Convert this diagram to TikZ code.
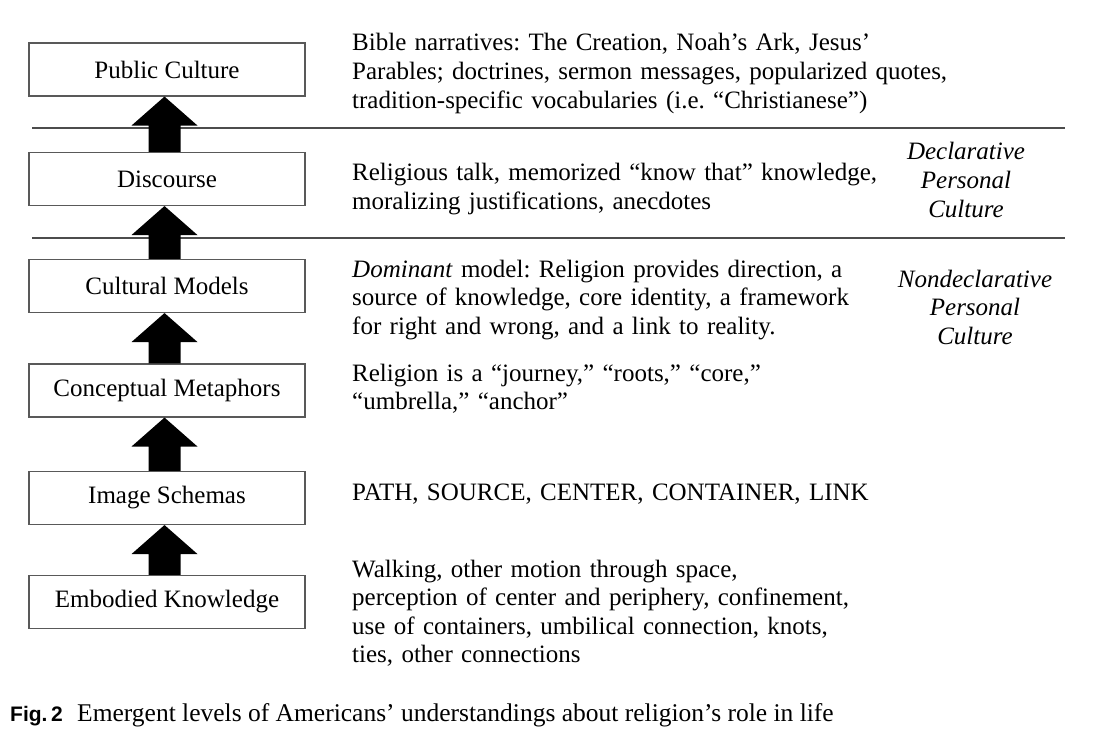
\documentclass[tikz,border=0pt]{standalone}
\usepackage{fontspec}
\setmainfont{Liberation Serif}
\setsansfont{Liberation Sans}
\usetikzlibrary{calc}
\frenchspacing
\newcommand\uparr[2]{%
  \fill[uparrowfill] let \p1=($(#1.north)+(-2.5pt,0)$), \p2=($(#2.south)+(-2.5pt,0)$) in
    (\x1-16pt,\y1) -- (\x1-16pt,\y2-29pt) -- (\x1-33pt,\y2-29pt) -- (\x2,\y2)
    -- (\x1+33pt,\y2-29pt) -- (\x1+16pt,\y2-29pt) -- (\x1+16pt,\y1) -- cycle;}
\tikzset{
  lvl/.style={draw=black!65, line width=1.1pt, minimum width=276pt, minimum height=53pt,
    inner sep=0pt, font=\fontsize{25}{28.5}\selectfont},
  desc/.style={anchor=base west, inner sep=0pt, text width=720pt, align=left,
    font=\fontsize{25}{28.6}\selectfont\frenchspacing},
  side/.style={anchor=base, inner sep=0pt, text width=220pt, align=center,
    font=\fontsize{25}{28.8}\selectfont\itshape},
  rulel/.style={draw=black!70, line width=1.3pt},
  uparrowfill/.style={fill=black},
  capt/.style={anchor=base west, inner sep=0pt, font=\fontsize{25.5}{28}\selectfont}
}
\begin{document}
\begin{tikzpicture}[x=1pt,y=-1pt]
\useasboundingbox (0,0) rectangle (1094,754);
\fill[white] (0,0) rectangle (1094,754);

% level boxes
\node[lvl] (pc) at (167,69.5) {Public Culture};
\node[lvl] (dc) at (167,179) {Discourse};
\node[lvl] (cm) at (167,286) {Cultural Models};
\node[lvl] (cp) at (167,390.5) {Conceptual Metaphors};
\node[lvl] (is) at (167,498) {Image Schemas};
\node[lvl] (ek) at (167,602) {Embodied Knowledge};

% horizontal rules
\coordinate (r1a) at (32,128); \coordinate (r1b) at (1065,128);
\coordinate (r2a) at (32,238); \coordinate (r2b) at (1065,238);
\draw[rulel] (r1a) -- (r1b);
\draw[rulel] (r2a) -- (r2b);

% arrows
\uparr{dc}{pc}
\uparr{cm}{dc}
\uparr{cp}{cm}
\uparr{is}{cp}
\uparr{ek}{is}

% descriptions
\node[desc] (tpc) at (352,51) {Bible narratives: The Creation, Noah’s Ark, Jesus’\\Parables; doctrines, sermon messages, popularized quotes,\\tradition-specific vocabularies (i.e. “Christianese”)};
\node[desc] (tdc) at (352,181) {Religious talk, memorized “know that” knowledge,\\moralizing justifications, anecdotes};
\node[desc] (tcm) at (352,277) {\textit{Dominant} model: Religion provides direction, a\\source of knowledge, core identity, a framework\\for right and wrong, and a link to reality.};
\node[desc] (tcp) at (352,381) {Religion is a “journey,” “roots,” “core,”\\“umbrella,” “anchor”};
\node[desc] (tis) at (352,500) {PATH, SOURCE, CENTER, CONTAINER, LINK};
\node[desc] (tek) at (352,577) {Walking, other motion through space,\\perception of center and periphery, confinement,\\use of containers, umbilical connection, knots,\\ties, other connections};

% side labels
\node[side] (decl) at (966,160) {Declarative\\Personal\\Culture};
\node[side] (nondecl) at (975,287) {Nondeclarative\\Personal\\Culture};

% caption
\node[anchor=base west, inner sep=0pt, font=\fontsize{21}{24}\selectfont\sffamily\bfseries] (fig) at (10,721) {Fig.\,2};
\node[capt] (cap) at (77,721) {Emergent levels of Americans’ understandings about religion’s role in life};
\end{tikzpicture}
\end{document}
